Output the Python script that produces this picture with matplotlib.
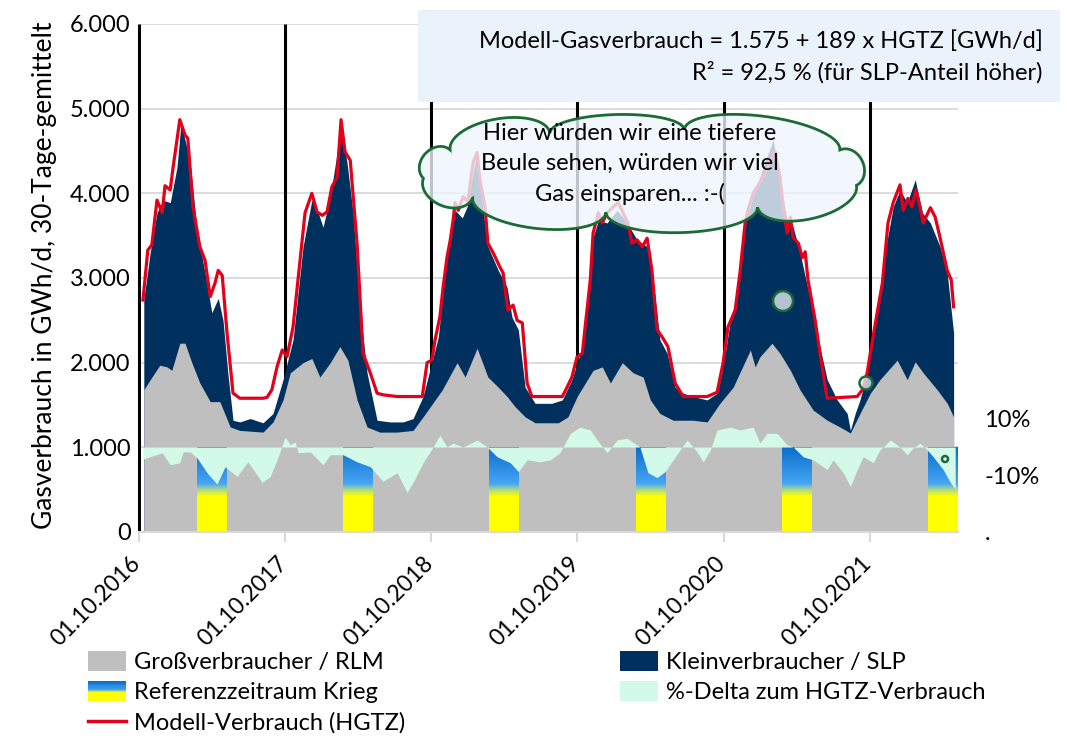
import matplotlib
matplotlib.use("Agg")
import matplotlib.pyplot as plt
import numpy as np
from matplotlib.colors import LinearSegmentedColormap
from matplotlib.legend_handler import HandlerBase
from matplotlib.lines import Line2D
from matplotlib.patches import Circle, Patch, Polygon, Rectangle
from matplotlib.ticker import FuncFormatter
from matplotlib.transforms import ScaledTranslation
import matplotlib.dates as mdates

plt.rcParams["font.family"] = ["Lato", "DejaVu Sans"]

# --- data (days since 01.10.2016) ---
START = np.datetime64("2016-10-01")

rlm_tage = [12, 28, 52, 70, 82, 102, 115, 132, 152, 178, 202, 228, 252, 310, 335, 360, 378, 410, 432, 452,
            478, 502, 522, 545, 570, 602, 645, 685, 710, 758, 795, 815, 845, 872, 898, 920, 940, 965, 990, 1048,
            1072, 1095, 1135, 1158, 1178, 1208, 1235, 1260, 1278, 1302, 1335, 1385, 1420, 1452, 1485, 1528, 1540,
            1552, 1582, 1602, 1628, 1652, 1685, 1720, 1752, 1778, 1802, 1828, 1852, 1895, 1920, 1940, 1960, 1995,
            2020, 2036]
rlm_gwh = [1680, 1800, 1970, 1950, 1910, 2230, 2230, 2000, 1760, 1540, 1540, 1240, 1200, 1180, 1300, 1560, 1880,
           2000, 2050, 1830, 2000, 2190, 2030, 1560, 1240, 1180, 1180, 1200, 1360, 1680, 2000, 1830, 2170, 1830,
           1710, 1600, 1480, 1360, 1290, 1290, 1360, 1600, 1910, 1950, 1760, 2000, 1880, 1830, 1560, 1400, 1320,
           1320, 1300, 1520, 1710, 2150, 1950, 2070, 2230, 2110, 1910, 1680, 1440, 1320, 1240, 1170, 1400, 1640,
           1800, 2030, 1800, 2010, 1880, 1680, 1520, 1360]

# top of the stacked SLP area (RLM + SLP)
gesamt_tage = [12, 28, 45, 60, 78, 95, 105, 115, 128, 145, 165, 182, 198, 210, 222, 235, 252, 278, 310, 335,
               360, 385, 410, 432, 448, 460, 478, 505, 520, 535, 552, 570, 595, 628, 660, 685, 710, 748, 772, 790,
               808, 820, 845, 860, 872, 898, 920, 932, 948, 965, 990, 1032, 1058, 1082, 1108, 1120, 1135, 1148,
               1170, 1195, 1220, 1245, 1270, 1285, 1302, 1320, 1340, 1360, 1385, 1420, 1445, 1460, 1478, 1495,
               1510, 1535, 1560, 1585, 1602, 1620, 1635, 1652, 1678, 1698, 1720, 1745, 1770, 1778, 1790, 1802,
               1820, 1845, 1870, 1885, 1902, 1920, 1940, 1958, 1978, 2002, 2020, 2036]
gesamt_gwh = [2740, 3300, 3770, 3920, 3890, 4310, 4830, 4630, 4360, 3570, 3060, 2590, 2760, 2500, 1880, 1320,
              1300, 1340, 1290, 1400, 1800, 2270, 3370, 3920, 3770, 3600, 3960, 4780, 4360, 3770, 2660, 1880,
              1320, 1300, 1300, 1340, 1600, 2300, 3370, 3800, 3710, 3840, 4510, 3800, 3370, 3090, 2890, 2540,
              2390, 1710, 1520, 1520, 1560, 1800, 2190, 2590, 3480, 3680, 3650, 3800, 3650, 3450, 3370, 2980,
              2270, 2110, 1710, 1640, 1600, 1560, 1640, 1950, 2500, 2780, 3570, 3960, 4310, 4630, 4160, 3680,
              3600, 3300, 2740, 2270, 1800, 1560, 1400, 1200, 1400, 1560, 1880, 2660, 3450, 3840, 4040, 3890,
              4160, 3770, 3650, 3370, 3060, 2350]

modell_tage = [10, 22, 32, 45, 58, 65, 78, 85, 102, 115, 122, 135, 152, 165, 178, 190, 198, 208, 220, 235, 252,
               310, 320, 332, 345, 358, 370, 385, 402, 415, 432, 445, 458, 470, 482, 495, 505, 515, 528, 545, 560,
               578, 595, 610, 645, 708, 720, 732, 740, 752, 760, 770, 778, 785, 790, 798, 810, 822, 835, 845, 852,
               865, 872, 885, 902, 910, 922, 935, 945, 958, 970, 982, 1058, 1070, 1082, 1095, 1108, 1115, 1128,
               1135, 1148, 1158, 1170, 1185, 1198, 1210, 1222, 1232, 1245, 1258, 1270, 1282, 1295, 1308, 1322,
               1340, 1360, 1420, 1445, 1460, 1472, 1490, 1502, 1515, 1522, 1535, 1560, 1578, 1590, 1602, 1612,
               1620, 1628, 1635, 1648, 1658, 1665, 1672, 1690, 1702, 1720, 1795, 1808, 1820, 1832, 1845, 1858,
               1872, 1885, 1902, 1910, 1922, 1932, 1942, 1952, 1960, 1978, 1990, 2002, 2020, 2030, 2036]
modell_gwh = [2740, 3330, 3390, 3920, 3770, 4090, 4040, 4300, 4870, 4690, 4650, 3840, 3370, 3210, 2780, 2940,
              3090, 3030, 2350, 1640, 1580, 1580, 1590, 1680, 1950, 2150, 2070, 2420, 3180, 3770, 4000, 3780,
              3740, 3780, 4075, 4190, 4870, 4490, 4390, 3410, 2110, 1880, 1640, 1620, 1600, 1600, 2000, 2030,
              2270, 2540, 2890, 3250, 3450, 3680, 3890, 3800, 3960, 3900, 4360, 4480, 4160, 3840, 3410, 3300,
              3130, 3060, 2620, 2680, 2500, 2470, 1760, 1600, 1600, 1710, 1830, 2070, 2110, 2420, 2980, 3530,
              3770, 3650, 3770, 3840, 3890, 3770, 3650, 3410, 3450, 3370, 3470, 3090, 2390, 2300, 2190, 1760,
              1600, 1600, 1650, 2000, 2420, 2620, 3060, 3650, 3800, 4000, 4190, 4390, 4490, 4190, 3770, 3530,
              3720, 3480, 3410, 3240, 3310, 2980, 2500, 2110, 1580, 1600, 1680, 1880, 2230, 2590, 2940, 3650,
              3890, 4100, 3800, 3940, 3840, 4040, 3840, 3650, 3830, 3720, 3480, 3090, 2980, 2660]

delta_tage = [10, 28, 58, 78, 102, 110, 128, 145, 170, 195, 215, 245, 272, 308, 328, 348, 365, 378, 390, 398,
              428, 460, 478, 510, 545, 578, 610, 645, 670, 685, 710, 735, 752, 770, 785, 810, 845, 870, 895, 928,
              948, 970, 1002, 1028, 1052, 1078, 1102, 1128, 1145, 1170, 1195, 1220, 1252, 1272, 1295, 1315, 1335,
              1370, 1395, 1410, 1428, 1445, 1478, 1502, 1535, 1552, 1570, 1595, 1620, 1635, 1660, 1685, 1720,
              1735, 1760, 1778, 1795, 1810, 1835, 1852, 1878, 1902, 1920, 1935, 1952, 1970, 1985, 2010, 2028, 2040]
delta_pct = [-4.2, -3.4, -2.0, -6.2, -5.5, -1.7, -1.7, -3.8, -9.0, -13.0, -6.9, -10.3, -5.2, -12.4, -10.3, -3.4,
             3.5, 0.8, 1.8, -2.0, -1.7, -6.2, -2.7, -2.7, -5.2, -6.9, -12.0, -9.0, -15.9, -12.4, -5.5, 0.0, 4.2,
             0.0, 1.4, 0.0, 2.5, 0.0, -3.4, -5.5, -8.6, -4.5, -5.2, -4.5, -2.0, 4.8, 7.0, 6.0, 2.5, -2.0, 2.5,
             3.1, 0.0, -9.0, -10.7, -8.6, -4.5, 2.5, -1.7, -5.2, -1.0, 6.0, 7.0, 6.0, 7.0, 1.4, 4.8, 4.8, 0.7,
             0.0, -3.4, -4.5, -7.9, -4.5, -9.0, -13.8, -7.9, -3.4, -5.5, -1.0, 2.5, 0.0, -2.7, -0.3, 1.4, -1.0,
             -3.4, -7.9, -12.4, -14.8]

ref_start = ["2017-02-24", "2018-02-24", "2019-02-24", "2020-02-24", "2021-02-24", "2022-02-24"]
ref_end = ["2017-05-08", "2018-05-08", "2019-05-08", "2020-05-08", "2021-05-08", "2022-05-08"]
jahres_start = ["2016-10-01", "2017-10-01", "2018-10-01", "2019-10-01", "2020-10-01", "2021-10-01"]

formel_text = "Modell-Gasverbrauch = 1.575 + 189 x HGTZ [GWh/d]\nR² = 92,5 % (für SLP-Anteil höher)"
wolke_text = "Hier würden wir eine tiefere\nBeule sehen, würden wir viel\nGas einsparen... :-("

GRAY = "#bfbfbf"
NAVY = "#00305e"
RED = "#e2001a"
MINT = "#d3f9e8"
GREEN = "#1b6b36"
CLOUD = "#eef5fd"
ref_cmap = LinearSegmentedColormap.from_list(
    "krieg", [(0, "#ffff00"), (0.42, "#ffff00"), (0.5, "#a9d88c"), (0.57, "#45a6f6"), (1, "#0b6dc8")])


def days(t):
    return START + np.array(t, dtype="timedelta64[D]")


class GradientHandler(HandlerBase):
    def create_artists(self, legend, orig_handle, xdescent, ydescent, width, height, fontsize, trans):
        n = 16
        arts = []
        for i in range(n):
            arts.append(Rectangle((-xdescent, -ydescent + i * height / n), width, height / n + 0.3,
                                  facecolor=ref_cmap((i + 0.5) / n), edgecolor="none", transform=trans))
        return arts


W, H = 1067, 751
fig = plt.figure(figsize=(W / 100, H / 100), dpi=100)
L, R, B, T = 139, 958, 532, 24
ax = fig.add_axes([L / W, 1 - B / H, (R - L) / W, (B - T) / H])

ax.vlines(np.array(jahres_start, dtype="datetime64[D]"), 0, 6000, color="black", lw=2.2, zorder=0.8, clip_on=False)
ax.fill_between(days(gesamt_tage), 0, gesamt_gwh, color=NAVY, lw=0, zorder=1)
ax.fill_between(days(rlm_tage), 0, rlm_gwh, color=GRAY, lw=0, zorder=1.1)
grad = np.linspace(0, 1, 256).reshape(-1, 1)
for s, e in zip(ref_start, ref_end):
    x0 = mdates.date2num(np.datetime64(s))
    x1 = mdates.date2num(np.datetime64(e))
    ax.imshow(grad, extent=[x0, x1, 0, 1000], origin="lower", aspect="auto", cmap=ref_cmap, zorder=1.2,
              interpolation="bilinear")
ax.plot(days(modell_tage), modell_gwh, color=RED, lw=2.3, zorder=3)

ax.set_xlim(np.datetime64("2016-10-01"), np.datetime64("2022-05-10"))
ax.set_ylim(0, 6000)
ax.set_yticks(range(0, 6001, 1000))
ax.yaxis.set_major_formatter(FuncFormatter(lambda v, p: f"{v:,.0f}".replace(",", ".")))
ax.set_xticks(np.array(jahres_start, dtype="datetime64[D]"))
ax.xaxis.set_major_formatter(mdates.DateFormatter("%d.%m.%Y"))
ax.grid(axis="y", color="#d9d9d9", lw=1.3)
ax.set_axisbelow(True)
for sp in ["left", "right", "top"]:
    ax.spines[sp].set_visible(False)
ax.spines["bottom"].set_color("#d9d9d9")
ax.spines["bottom"].set_linewidth(1.5)
ax.tick_params(axis="y", length=0, pad=6, labelsize=17)
ax.tick_params(axis="x", length=7, width=1.5, color="#d9d9d9", pad=8, labelsize=16.5)
shift = ScaledTranslation(6 / 100, 0, fig.dpi_scale_trans)
for lab in ax.get_xticklabels():
    lab.set_rotation(45)
    lab.set_ha("right")
    lab.set_transform(lab.get_transform() + shift)
ax.set_ylabel("Gasverbrauch in GWh/d, 30-Tage-gemittelt", fontsize=19)
ax.yaxis.set_label_coords(-0.1, 0.505)

ax2 = ax.twinx()
ax2.fill_between(days(delta_tage), 0, delta_pct, color=MINT, lw=0)
ax2.set_ylim(-29.8, 148.4)
ax2.set_yticks([-29.8, -10, 10], [".", "-10%", "10%"])
ax2.tick_params(axis="y", length=0, pad=19, labelsize=17)
for sp in ax2.spines.values():
    sp.set_visible(False)

# overlay in pixel coordinates for annotation shapes
ov = fig.add_axes([0, 0, 1, 1], zorder=5)
ov.set_xlim(0, W)
ov.set_ylim(H, 0)
ov.axis("off")
ov.add_patch(Rectangle((418, 10), 642, 92, facecolor="#eaf2fc", edgecolor="none"))
ov.text(1043, 57, formel_text, ha="right", va="center", fontsize=17, linespacing=1.45)

# cloud callout: scalloped outline around an ellipse
cx, cy, a, b = 645, 171, 225, 42
ang = np.radians([-30, 20, 60, 100, 140, 170, 210, 245, 280, 330])
bulge = [0.8, 0.45, 0.3, 0.35, 0.7, 0.8, 0.45, 0.25, 0.3, 0.7]
px, py = cx + a * np.cos(ang), cy + b * np.sin(ang)
verts = []
for i in range(len(ang)):
    j = (i + 1) % len(ang)
    p0, p1 = np.array([px[i], py[i]]), np.array([px[j], py[j]])
    m = (p0 + p1) / 2
    h = np.linalg.norm(p1 - p0) / 2
    u = (p1 - p0) / (2 * h)
    n = np.array([-u[1], u[0]])
    if np.dot(n, m - np.array([cx, cy])) < 0:
        n = -n
    s = np.linspace(0, np.pi, 30)
    verts.append(m - h * np.cos(s)[:, None] * u + bulge[i] * h * np.sin(s)[:, None] * n)
ov.add_patch(Polygon(np.vstack(verts), closed=True, facecolor=CLOUD, alpha=0.8, edgecolor="none"))
ov.add_patch(Polygon(np.vstack(verts), closed=True, facecolor="none", edgecolor=GREEN, lw=2))
for (x, y, r) in [(783, 301, 10), (866, 383, 6.5), (945, 459, 3)]:
    ov.add_patch(Circle((x, y), r, facecolor=CLOUD, alpha=0.75, edgecolor="none"))
    ov.add_patch(Circle((x, y), r, facecolor="none", edgecolor=GREEN, lw=1.8))
ov.text(630, 164, wolke_text, ha="center", va="center", fontsize=17, linespacing=1.5)

# legend
ref_handle = Patch(facecolor="#ffff00")
handles = [Patch(facecolor=GRAY), ref_handle, Line2D([], [], color=RED, lw=2.5),
           Patch(facecolor=NAVY), Patch(facecolor=MINT)]
labels = ["Großverbraucher / RLM", "Referenzzeitraum Krieg", "Modell-Verbrauch (HGTZ)",
          "Kleinverbraucher / SLP", "%-Delta zum HGTZ-Verbrauch"]
fig.legend(handles, labels, loc="upper left", bbox_to_anchor=(88 / W, 1 - 651 / H), ncol=2, frameon=False,
           fontsize=17, handlelength=1.6, handleheight=0.9, handletextpad=0.35, columnspacing=9.1,
           labelspacing=0.36, borderpad=0, borderaxespad=0, handler_map={ref_handle: GradientHandler()})

fig.savefig("out.png", dpi=100)
